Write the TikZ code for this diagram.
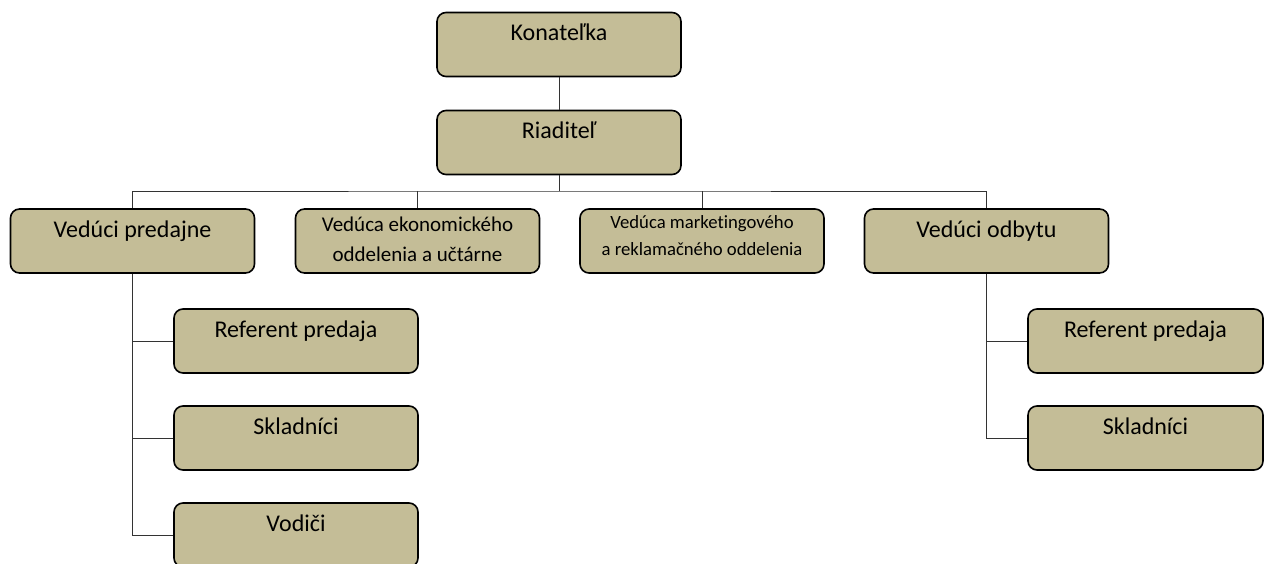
\documentclass[tikz,border=0pt]{standalone}
\usepackage{fontspec}
\setmainfont{Carlito}[Ligatures=NoCommon]
\usepackage{tikz}
\definecolor{boxtan}{RGB}{196,189,151}
\tikzset{
  box/.style={draw=black, fill=boxtan, line width=1.6pt, rounded corners=9pt,
    minimum width=244pt, minimum height=64pt, inner sep=0pt},
  txt/.style={anchor=base, inner sep=0pt, align=center, font=\fontsize{24}{31}\selectfont},
  midtxt/.style={anchor=base, inner sep=0pt, align=center, font=\fontsize{21}{30}\selectfont},
  smalltxt/.style={anchor=base, inner sep=0pt, align=center, font=\fontsize{18.7}{27}\selectfont},
  link/.style={line width=1pt, draw=black!80}
}

\begin{document}
\begin{tikzpicture}[x=1pt,y=-1pt]
\useasboundingbox (0,0) rectangle (1265,564);
% top
\node[box] (kon) at (559,44.5) {};
\node[box] (riad) at (559,142.5) {};
\node[txt] (kont) at ([yshift=-29pt]kon.north) {Konateľka};
\node[txt] (riadt) at ([yshift=-29pt]riad.north) {Riaditeľ};
% second row
\node[box] (vp) at (132.5,241) {};
\node[box] (ve) at (417.5,241) {};
\node[box] (vm) at (702,241) {};
\node[box] (vo) at (986.5,241) {};
\node[txt] (vpt) at ([yshift=-29pt]vp.north) {Vedúci predajne};
\node[midtxt,anchor=north] (vet) at ([yshift=-9pt]ve.north) {Vedúca ekonomického\\oddelenia a učtárne};
\node[smalltxt,anchor=north] (vmt) at ([yshift=-7pt]vm.north) {Vedúca marketingového\\a reklamačného oddelenia};
\node[txt] (vot) at ([yshift=-29pt]vo.north) {Vedúci odbytu};
% children
\node[box] (rp1) at (296,341) {};
\node[box] (sk1) at (296,438) {};
\node[box] (vod) at (296,535) {};
\node[box,minimum width=235pt] (rp2) at (1145.5,341) {};
\node[box,minimum width=235pt] (sk2) at (1145.5,438) {};
\node[txt] (rp1t) at ([yshift=-29pt]rp1.north) {Referent predaja};
\node[txt] (sk1t) at ([yshift=-29pt]sk1.north) {Skladníci};
\node[txt] (vodt) at ([yshift=-29pt]vod.north) {Vodiči};
\node[txt] (rp2t) at ([yshift=-29pt]rp2.north) {Referent predaja};
\node[txt] (sk2t) at ([yshift=-29pt]sk2.north) {Skladníci};
% links
\coordinate (bar) at (560,191);
\draw[link] (kon) -- (riad);
\draw[link] (riad.south) -- (riad.south |- bar);
\draw[link] (vp.north) |- (bar) -| (vo.north);
\draw[link] (ve.north) -- (ve.north |- bar);
\draw[link] (vm.north) -- (vm.north |- bar);
\draw[link] (vp.south) |- (rp1.west);
\draw[link] (vp.south) |- (sk1.west);
\draw[link] (vp.south) |- (vod.west);
\draw[link] (vo.south) |- (rp2.west);
\draw[link] (vo.south) |- (sk2.west);
\end{tikzpicture}
\end{document}
